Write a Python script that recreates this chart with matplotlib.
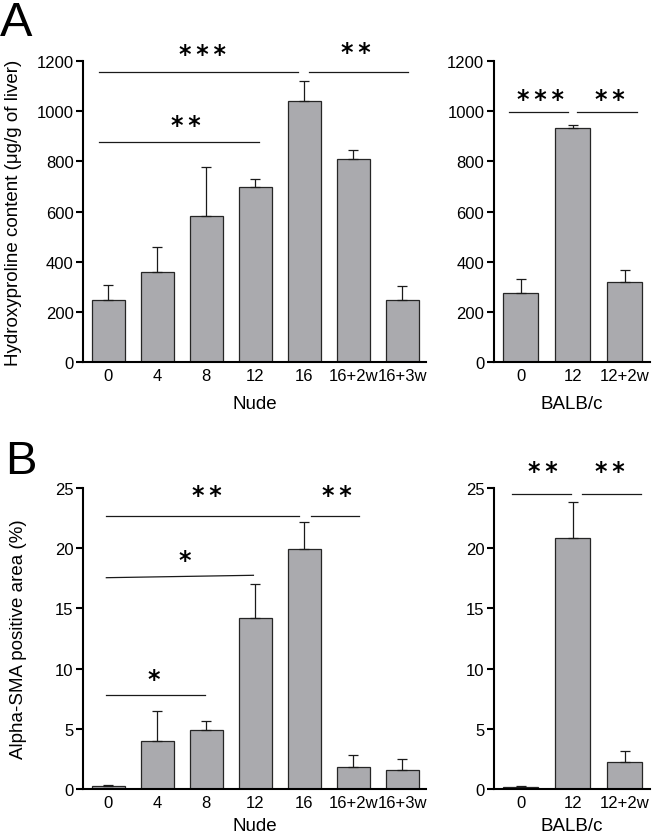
import numpy as np
import matplotlib
matplotlib.use('Agg')
import matplotlib.pyplot as plt

plt.rcParams['font.family'] = ['Liberation Sans', 'DejaVu Sans']

# groups
nude_groups = ['0', '4', '8', '12', '16', '16+2w', '16+3w']
balb_groups = ['0', '12', '12+2w']

# A: hydroxyproline (ug/g of liver), mean and upper SEM
hyp_nude = [249, 358, 581, 697, 1040, 811, 247]
hyp_nude_err = [60, 101, 195, 32, 79, 36, 58]
hyp_balb = [275, 932, 321]
hyp_balb_err = [58, 13, 48]

# B: alpha-SMA positive area (%)
sma_nude = [0.28, 3.99, 4.87, 14.2, 19.96, 1.85, 1.6]
sma_nude_err = [0.03, 2.49, 0.8, 2.8, 2.24, 1.0, 0.89]
sma_balb = [0.15, 20.85, 2.24]
sma_balb_err = [0.1, 2.95, 0.92]

# significance brackets: x0, x1, y0, y1, stars, text x, text y
hyp_nude_sig = [(-0.19, 3.86, 1157, 1157, '***', 1.93, 1228),
                (4.10, 6.11, 1157, 1157, '**', 5.04, 1235),
                (-0.19, 3.07, 877, 877, '**', 1.58, 945)]
hyp_balb_sig = [(-0.23, 0.90, 997, 997, '***', 0.375, 1050),
                (1.09, 2.23, 997, 997, '**', 1.71, 1050)]
sma_nude_sig = [(-0.04, 3.89, 22.7, 22.7, '**', 2.02, 24.4),
                (4.13, 5.12, 22.7, 22.7, '**', 4.66, 24.4),
                (-0.04, 2.96, 17.55, 17.75, '*', 1.55, 19.0),
                (-0.04, 1.97, 7.83, 7.83, '*', 0.93, 9.1)]
sma_balb_sig = [(-0.16, 0.97, 24.5, 24.5, '**', 0.43, 26.4),
                (1.17, 2.30, 24.5, 24.5, '**', 1.71, 26.4)]

W, H = 654, 837
fig = plt.figure(figsize=(W / 100, H / 100), dpi=100)


def make_ax(left, top, right, bottom):
    return fig.add_axes([left / W, 1 - bottom / H, (right - left) / W, (bottom - top) / H])


def draw(ax, groups, means, errs, sig, ymax, ystep, xmax, xlabel, lpad):
    x = np.arange(len(groups))
    ax.bar(x, means, width=0.67, color='#aaaaae', edgecolor='#262626', linewidth=0.9, zorder=2)
    ax.errorbar(x, means, yerr=[np.zeros(len(errs)), errs], fmt='none', ecolor='#1a1a1a',
                elinewidth=0.9, capsize=3.5, capthick=0.9, zorder=3)
    ax.set_xlim(-0.51, xmax)
    ax.set_ylim(0, ymax)
    ax.set_yticks(np.arange(0, ymax + ystep / 2, ystep))
    ax.set_xticks(x)
    ax.set_xticklabels(groups)
    for s in ['top', 'right']:
        ax.spines[s].set_visible(False)
    for s in ['left', 'bottom']:
        ax.spines[s].set_linewidth(1.5)
    ax.tick_params(axis='y', direction='out', length=5, width=1.5, labelsize=12, pad=2)
    ax.tick_params(axis='x', length=0, labelsize=12, pad=4)
    ax.set_xlabel(xlabel, fontsize=13.5, labelpad=lpad)
    for x0, x1, y0, y1, stars, tx, ty in sig:
        ax.plot([x0, x1], [y0, y1], color='#1a1a1a', lw=0.9, clip_on=False)
        ax.text(tx, ty, '\u2009'.join(stars), ha='center', va='center', fontsize=17,
                fontweight='bold', family='DejaVu Sans', clip_on=False)


axA1 = make_ax(83.3, 62, 426, 363.3)
axA2 = make_ax(494, 62, 650, 363.3)
axB1 = make_ax(83.3, 489, 426, 790)
axB2 = make_ax(494, 489, 650, 790)

draw(axA1, nude_groups, hyp_nude, hyp_nude_err, hyp_nude_sig, 1200, 200, 6.48, 'Nude', 9)
draw(axA2, balb_groups, hyp_balb, hyp_balb_err, hyp_balb_sig, 1200, 200, 2.48, 'BALB/c', 9)
draw(axB1, nude_groups, sma_nude, sma_nude_err, sma_nude_sig, 25, 5, 6.48, 'Nude', 5.5)
draw(axB2, balb_groups, sma_balb, sma_balb_err, sma_balb_sig, 25, 5, 2.48, 'BALB/c', 5.5)

axA1.set_ylabel('Hydroxyproline content (\u03bcg/g of liver)', fontsize=13.5, va='center')
axA1.yaxis.set_label_coords(-0.205, 0.5)
axB1.set_ylabel('Alpha-SMA positive area (%)', fontsize=13.5, va='center')
axB1.yaxis.set_label_coords(-0.19, 0.5)

fig.text(0.0, 1 - 1 / H, 'A', fontsize=35, ha='left', va='top')
fig.text(5 / W, 1 - 440 / H, 'B', fontsize=34, ha='left', va='top')

fig.savefig('out.png', dpi=100)
